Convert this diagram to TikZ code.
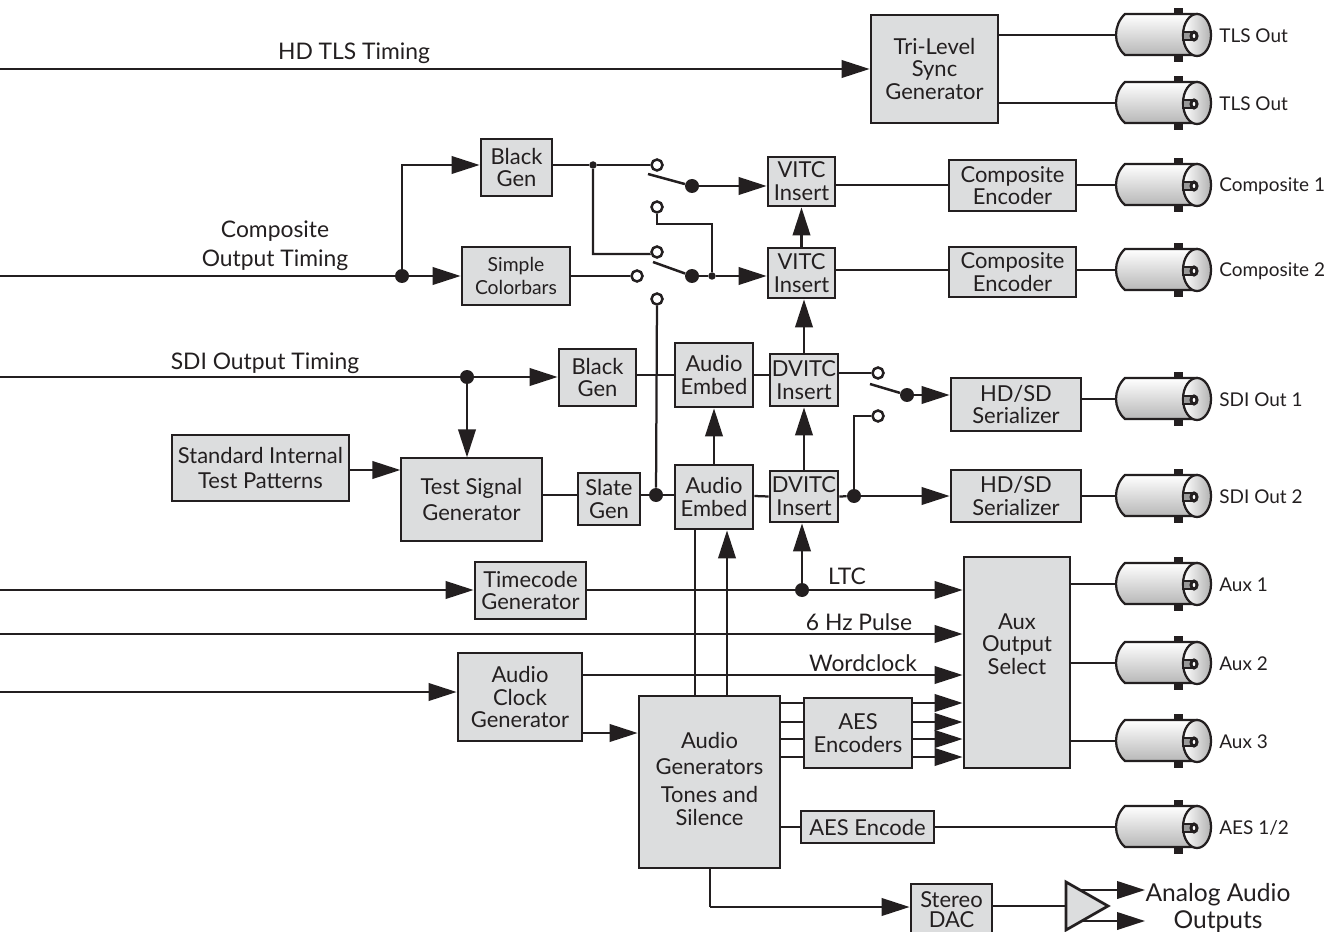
\documentclass[tikz,border=0pt]{standalone}
\usepackage{fontspec}
\setmainfont{Lato}
\usepackage{tikz}
\usetikzlibrary{arrows.meta}

\definecolor{boxgray}{HTML}{DCDDDE}
\definecolor{inkgray}{HTML}{231F20}

\tikzset{
    wire/.style={draw=inkgray,line width=0.045cm},
    arr/.style={wire,-{Triangle[length=0.56cm,width=0.35cm]}},
    box/.style={draw=inkgray,line width=0.055cm,fill=boxgray,align=center,inner sep=0pt,
        font=\fontsize{12.5}{13}\selectfont,text=inkgray},
    lbl/.style={align=center,inner sep=0pt,font=\fontsize{13}{13.5}\selectfont,text=inkgray},
    portlbl/.style={anchor=west,inner sep=0pt,font=\fontsize{10.8}{12}\selectfont,text=inkgray},
    bigdot/.style={circle,fill=inkgray,inner sep=0pt,minimum size=0.28cm},
    smalldot/.style={circle,fill=inkgray,inner sep=0pt,minimum size=0.15cm},
    opendot/.style={circle,draw=inkgray,line width=0.05cm,fill=white,inner sep=0pt,minimum size=0.22cm},
}

% connector: name, height, label
\newcommand{\bnc}[3]{
    \begin{scope}[shift={(0,#2)}]
        \fill[inkgray](1174,-27)rectangle(1183,27);
        \shade[draw=inkgray,line width=0.045cm,top color=white,bottom color=black!28]
            (1197,-21)--(1125,-21)..controls(1113,-10)and(1113,10)..(1125,20)--(1197,20)--cycle;
        \shade[draw=inkgray,line width=0.045cm,left color=white,right color=black!30]
            (1197,0)ellipse(14 and 21);
        \draw[draw=inkgray,line width=0.035cm,fill=black!40](1183,-3)rectangle(1192,5);
        \draw[draw=inkgray,line width=0.06cm,fill=white](1194,1)ellipse(3 and 4);
        \coordinate(#1)at(1116,0);
        \draw node[portlbl](#1lbl)at(1219,1){#3};
    \end{scope}
}

\begin{document}
\begin{tikzpicture}[x=0.02cm,y=-0.02cm]
    \useasboundingbox(0,0)rectangle(1328,932);
    \clip(0,0)rectangle(1328,932);
    % inputs on the left edge
    \coordinate(inTls)at(0,69);
    \coordinate(inComp)at(0,276);
    \coordinate(inSdi)at(0,377);
    \coordinate(inCode)at(0,590);
    \coordinate(inPulse)at(0,634);
    \coordinate(inClock)at(0,692);
    % blocks
    \node[box,minimum width=2.54cm,minimum height=2.16cm](tlsGen)at(934.5,69){Tri-Level\\Sync\\Generator};
    \node[box,minimum width=1.42cm,minimum height=1.14cm](blackA)at(516.5,167.5){Black\\Gen};
    \node[box,minimum width=2.16cm,minimum height=1.16cm,font=\fontsize{11}{13.5}\selectfont](colorbars)at(516,276){Simple\\Colorbars};
    \node[box,minimum width=1.34cm,minimum height=0.98cm](vitcA)at(801.5,181.5){VITC\\Insert};
    \node[box,minimum width=1.34cm,minimum height=1cm](vitcB)at(801.5,273){VITC\\Insert};
    \node[box,minimum width=2.54cm,minimum height=1.02cm](encA)at(1012.5,185.5){Composite\\Encoder};
    \node[box,minimum width=2.54cm,minimum height=1cm](encB)at(1012.5,272){Composite\\Encoder};
    \node[box,minimum width=1.54cm,minimum height=1.14cm](blackB)at(597.5,377.5){Black\\Gen};
    \node[box,minimum width=1.56cm,minimum height=1.28cm](embedA)at(714,375){Audio\\Embed};
    \node[box,minimum width=1.36cm,minimum height=1.04cm](dvitcA)at(804,380){DVITC\\Insert};
    \node[box,minimum width=2.6cm,minimum height=1.06cm](serA)at(1016,404.5){HD/SD\\Serializer};
    \node[box,minimum width=2.6cm,minimum height=1.04cm](serB)at(1016,496){HD/SD\\Serializer};
    \node[box,minimum width=1.56cm,minimum height=1.28cm](embedB)at(714,497){Audio\\Embed};
    \node[box,minimum width=1.36cm,minimum height=1.02cm](dvitcB)at(804,496.5){DVITC\\Insert};
    \node[box,minimum width=1.24cm,minimum height=1.04cm](slate)at(609,499){Slate\\Gen};
    \node[box,minimum width=2.82cm,minimum height=1.66cm,line width=0.025cm,
        font=\fontsize{12.5}{14.5}\selectfont](testGen)at(471.5,499.5){Test Signal\\Generator};
    \node[box,minimum width=3.54cm,minimum height=1.32cm,font=\fontsize{12.5}{14}\selectfont](patterns)at(260.5,468){Standard Internal\\Test Patterns};
    \node[box,minimum width=2.22cm,minimum height=1.14cm](timecode)at(530.5,590.5){Timecode\\Generator};
    \node[box,minimum width=2.12cm,minimum height=4.22cm](auxSel)at(1017,662.5){Aux\\Output\\Select\\[8pt]~};
    \node[box,minimum width=2.48cm,minimum height=1.76cm](clockGen)at(520,697){Audio\\Clock\\Generator};
    \node[box,minimum width=2.82cm,minimum height=3.44cm](audioGen)at(709.5,782){Audio\\[1.5pt]Generators\\[3pt]Tones and\\Silence\\[-9.6pt]~};
    \node[box,minimum width=2.16cm,minimum height=1.4cm](aesEnc)at(858,733){AES\\Encoders};
    \node[box,minimum width=2.66cm,minimum height=0.64cm](aesOne)at(867.5,827){AES Encode};
    \node[box,minimum width=1.62cm,minimum height=1.04cm,font=\fontsize{12.5}{11.5}\selectfont](dac)at(951.5,910){Stereo\\DAC};
    % output connectors
    \bnc{tlsA}{35}{TLS Out}
    \bnc{tlsB}{103}{TLS Out}
    \bnc{compA}{185}{Composite 1}
    \bnc{compB}{270}{Composite 2}
    \bnc{sdiA}{399}{SDI Out 1}
    \bnc{sdiB}{496}{SDI Out 2}
    \bnc{auxA}{584}{Aux 1}
    \bnc{auxB}{663}{Aux 2}
    \bnc{auxC}{741}{Aux 3}
    \bnc{aesOut}{827}{AES 1/2}
    % joints and switch contacts
    \node[bigdot](dotComp)at(402,276){};
    \node[smalldot](dotBlack)at(593,165){};
    \node[opendot](conA)at(657,165){};
    \node[opendot](conB)at(657,207){};
    \node[opendot](conC)at(657,252){};
    \node[opendot](conD)at(637,276){};
    \node[opendot](conE)at(657,299){};
    \node[bigdot](swA)at(692,186){};
    \node[bigdot](swB)at(692,276){};
    \node[smalldot](dotLoop)at(712,276){};
    \node[bigdot](dotSdi)at(467,377){};
    \node[bigdot](dotSlate)at(656,495){};
    \node[opendot](conF)at(878,373){};
    \node[opendot](conG)at(878,416){};
    \node[bigdot](swC)at(907,395){};
    \node[bigdot](dotSer)at(854,496){};
    \node[bigdot](dotLtc)at(802,590){};
    \coordinate(bladeA)at(648,174);
    \coordinate(bladeB)at(653,262);
    \coordinate(bladeC)at(870,384);
    \coordinate(cornerA)at(657,224);
    \coordinate(cornerB)at(712,224);
    \coordinate(cornerC)at(593,254);
    \coordinate(cornerD)at(854,416);
    \coordinate(cornerE)at(710,907);
    \coordinate(ampT)at(1066,882);
    \coordinate(ampA)at(1108,906);
    \coordinate(ampB)at(1066,930);
    \coordinate(ampOutA)at(1080,890);
    \coordinate(ampOutB)at(1080,921);
    \coordinate(tipA)at(1145,890);
    \coordinate(tipB)at(1145,921);
    % timing lines
    \draw[arr](inTls)--(tlsGen.west);
    \draw[wire](inComp)--(dotComp);
    \draw[arr](dotComp)--(colorbars.west);
    \draw[arr](dotComp)|-(blackA.west|-dotBlack);
    \draw[wire](blackA.east|-dotBlack)--(dotBlack)--(conA);
    \draw[wire](dotBlack)--(cornerC)--(conC.west|-cornerC)--(conC);
    \draw[wire](conB)--(cornerA)--(cornerB)--(dotLoop);
    \draw[wire](colorbars.east)--(conD);
    \draw[wire](conE)--(dotSlate);
    \draw[wire,line width=0.05cm](bladeA)--(swA);
    \draw[wire,line width=0.05cm](bladeB)--(swB);
    \draw[arr](swA)--(vitcA.west|-swA);
    \draw[wire](swB)--(dotLoop);
    \draw[arr](dotLoop)--(vitcB.west|-dotLoop);
    \draw[arr](vitcB.north)--(vitcA.south);
    \draw[wire](vitcA.east|-compA)--(encA.west|-compA);
    \draw[wire](vitcB.east|-compB)--(encB.west|-compB);
    \draw[wire](encA.east|-compA)--(compA);
    \draw[wire](encB.east|-compB)--(compB);
    \draw[wire](tlsGen.east|-tlsA)--(tlsA);
    \draw[wire](tlsGen.east|-tlsB)--(tlsB);
    % digital video path
    \draw[wire](inSdi)--(dotSdi);
    \draw[arr](dotSdi)--(blackB.west|-dotSdi);
    \draw[arr](dotSdi)--(testGen.north-|dotSdi);
    \draw[arr](patterns.east|-0,470)--(testGen.west|-0,470);
    \draw[wire](testGen.east|-dotSlate)--(slate.west|-dotSlate);
    \draw[wire](slate.east|-dotSlate)--(dotSlate)--(embedB.west|-dotSlate);
    \draw[wire](blackB.east|-embedA)--(embedA.west);
    \draw[wire](embedA.east)--(dvitcA.west|-embedA);
    \draw[wire](embedB.east|-dotSer)--(dvitcB.west);
    \draw[arr](embedB.north)--(embedA.south);
    \draw[arr](dvitcB.north)--(dvitcA.south);
    \draw[arr](dvitcA.north)--(vitcB.south-|dvitcA);
    \draw[wire](dvitcA.east|-conF)--(conF);
    \draw[wire,line width=0.05cm](bladeC)--(swC);
    \draw[arr](swC)--(serA.west|-swC);
    \draw[wire](conG)--(cornerD)--(dotSer);
    \draw[wire](dvitcB.east)--(dotSer);
    \draw[arr](dotSer)--(serB.west);
    \draw[wire](serA.east|-sdiA)--(sdiA);
    \draw[wire](serB.east)--(sdiB);
    % timecode and pulse lines
    \draw[arr](inCode)--(timecode.west|-inCode);
    \draw[wire](timecode.east|-inCode)--(dotLtc);
    \draw[arr](dotLtc)--(auxSel.west|-dotLtc);
    \draw[arr](dotLtc)--(dvitcB.south-|dotLtc);
    \draw[arr](inPulse)--(auxSel.west|-inPulse);
    % audio
    \draw[arr](inClock)--(clockGen.west|-inClock);
    \draw[arr](clockGen.east|-0,675)--(auxSel.west|-0,675);
    \draw[arr](clockGen.east|-0,733)--(audioGen.west|-0,733);
    \draw[wire](audioGen.north-|695,0)--(embedB.south-|695,0);
    \draw[arr](audioGen.north-|727,0)--(embedB.south-|727,0);
    \foreach \rowY in {703,722,739,757}{
        \draw[wire](audioGen.east|-0,\rowY)--(aesEnc.west|-0,\rowY);
        \draw[arr](aesEnc.east|-0,\rowY)--(auxSel.west|-0,\rowY);
    }
    \draw[wire](audioGen.east|-aesOne)--(aesOne.west);
    \draw[wire](aesOne.east)--(aesOut);
    \draw[wire](audioGen.south-|cornerE)--(cornerE);
    \draw[arr](cornerE)--(dac.west|-cornerE);
    \draw[wire](auxSel.east|-auxA)--(auxA);
    \draw[wire](auxSel.east|-auxB)--(auxB);
    \draw[wire](auxSel.east|-auxC)--(auxC);
    % amplifier
    \draw[wire](dac.east|-ampA)--(ampT|-ampA);
    \draw[arr](ampOutA)--(tipA);
    \draw[arr](ampOutB)--(tipB);
    \draw[draw=inkgray,line width=0.055cm,fill=boxgray](ampT)--(ampA)--(ampB)--cycle;
    % line labels
    \draw node[lbl](lblTls)at(354,53){HD TLS Timing};
    \draw node[lbl](lblComp)at(275,246){Composite\\[3pt]Output Timing};
    \draw node[lbl](lblSdi)at(265,363){SDI Output Timing};
    \draw node[lbl](lblLtc)at(847,576){LTC};
    \draw node[lbl](lblPulse)at(859,622){6 Hz Pulse};
    \draw node[lbl](lblClock)at(863,663){Wordclock};
    \draw node[lbl,font=\fontsize{14}{14}\selectfont](lblAnalog)at(1218,908){Analog Audio\\[1.5pt]Outputs};
\end{tikzpicture}
\end{document}
